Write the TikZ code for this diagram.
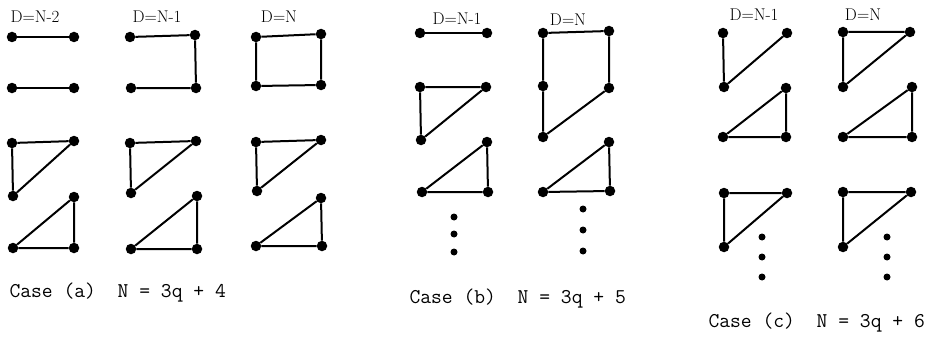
\documentclass[tikz,border=0pt]{standalone}
\usepackage{amsmath,amssymb}

\tikzset{
  pt/.style={circle,fill,inner sep=0pt,minimum size=10.5pt},
  gap/.style={circle,fill,inner sep=0pt,minimum size=7pt},
  edge/.style={line width=2pt,line join=round},
  head/.style={font=\fontsize{17}{20}\selectfont},
  case/.style={anchor=base west,font=\ttfamily\fontsize{21}{25}\selectfont}
}

\begin{document}
\begin{tikzpicture}[x=1pt,y=-1pt]
    \useasboundingbox (0,0) rectangle (926,337);

    % Case (a), D=N-2
    \node[head] (ha1) at (35,17) {D=N-2};
    \node[pt] (a11) at (12,37) {}; \node[pt] (a12) at (74,37) {};
    \node[pt] (a13) at (12,88) {}; \node[pt] (a14) at (74,88) {};
    \node[pt] (a15) at (12,143) {}; \node[pt] (a16) at (74,141) {};
    \node[pt] (a17) at (13,196) {}; \node[pt] (a18) at (74,197) {};
    \node[pt] (a19) at (13,248) {}; \node[pt] (a110) at (74,248) {};
    \draw[edge] (a11) -- (a12);
    \draw[edge] (a13) -- (a14);
    \draw[edge] (a15) -- (a16) -- (a17) -- (a15);
    \draw[edge] (a18) -- (a19) -- (a110) -- (a18);

    % Case (a), D=N-1
    \node[head] (ha2) at (157,17) {D=N-1};
    \node[pt] (a21) at (130,37) {}; \node[pt] (a22) at (195,35) {};
    \node[pt] (a23) at (131,88) {}; \node[pt] (a24) at (196,88) {};
    \node[pt] (a25) at (130,143) {}; \node[pt] (a26) at (196,141) {};
    \node[pt] (a27) at (131,193) {}; \node[pt] (a28) at (197,196) {};
    \node[pt] (a29) at (131,249) {}; \node[pt] (a210) at (197,249) {};
    \draw[edge] (a21) -- (a22) -- (a24) -- (a23);
    \draw[edge] (a25) -- (a26) -- (a27) -- (a25);
    \draw[edge] (a28) -- (a29) -- (a210) -- (a28);

    % Case (a), D=N
    \node[head] (ha3) at (279,17) {D=N};
    \node[pt] (a31) at (256,37) {}; \node[pt] (a32) at (321,34) {};
    \node[pt] (a33) at (256,86) {}; \node[pt] (a34) at (321,85) {};
    \node[pt] (a35) at (256,142) {}; \node[pt] (a36) at (321,140) {};
    \node[pt] (a37) at (257,191) {}; \node[pt] (a38) at (321,198) {};
    \node[pt] (a39) at (256,246) {}; \node[pt] (a310) at (322,246) {};
    \draw[edge] (a31) -- (a32) -- (a34) -- (a33) -- (a31);
    \draw[edge] (a35) -- (a36) -- (a37) -- (a35);
    \draw[edge] (a38) -- (a39) -- (a310) -- (a38);

    % Case (b), D=N-1
    \node[head] (hb1) at (457,19) {D=N-1};
    \node[pt] (b11) at (420,33) {}; \node[pt] (b12) at (487,33) {};
    \node[pt] (b13) at (420,87) {}; \node[pt] (b14) at (486,87) {};
    \node[pt] (b15) at (421,140) {}; \node[pt] (b16) at (487,142) {};
    \node[pt] (b17) at (422,192) {}; \node[pt] (b18) at (488,192) {};
    \node[gap] (b19) at (454,217) {}; \node[gap] (b110) at (454,234) {};
    \node[gap] (b111) at (454,252) {};
    \draw[edge] (b11) -- (b12);
    \draw[edge] (b13) -- (b14) -- (b15) -- (b13);
    \draw[edge] (b16) -- (b17) -- (b18) -- (b16);

    % Case (b), D=N
    \node[head] (hb2) at (568,20) {D=N};
    \node[pt] (b21) at (543,33) {}; \node[pt] (b22) at (609,31) {};
    \node[pt] (b23) at (543,86) {}; \node[pt] (b24) at (609,88) {};
    \node[pt] (b25) at (543,137) {}; \node[pt] (b26) at (609,142) {};
    \node[pt] (b27) at (543,192) {}; \node[pt] (b28) at (610,191) {};
    \node[gap] (b29) at (583,209) {}; \node[gap] (b210) at (583,230) {};
    \node[gap] (b211) at (583,251) {};
    \draw[edge] (b22) -- (b21) -- (b23) -- (b25) -- (b24) -- (b22);
    \draw[edge] (b26) -- (b27) -- (b28) -- (b26);

    % Case (c), D=N-1
    \node[head] (hc1) at (754,15) {D=N-1};
    \node[pt] (c11) at (723,33) {}; \node[pt] (c12) at (787,33) {};
    \node[pt] (c13) at (724,87) {}; \node[pt] (c14) at (786,88) {};
    \node[pt] (c15) at (723,137) {}; \node[pt] (c16) at (786,137) {};
    \node[pt] (c17) at (724,193) {}; \node[pt] (c18) at (787,193) {};
    \node[pt] (c19) at (724,247) {};
    \node[gap] (c110) at (762,237) {}; \node[gap] (c111) at (762,257) {};
    \node[gap] (c112) at (762,277) {};
    \draw[edge] (c11) -- (c13) -- (c12);
    \draw[edge] (c14) -- (c15) -- (c16) -- (c14);
    \draw[edge] (c17) -- (c18) -- (c19) -- (c17);

    % Case (c), D=N
    \node[head] (hc2) at (863,15) {D=N};
    \node[pt] (c21) at (843,32) {}; \node[pt] (c22) at (910,32) {};
    \node[pt] (c23) at (843,87) {}; \node[pt] (c24) at (912,87) {};
    \node[pt] (c25) at (843,137) {}; \node[pt] (c26) at (912,137) {};
    \node[pt] (c27) at (843,192) {}; \node[pt] (c28) at (911,192) {};
    \node[pt] (c29) at (843,247) {};
    \node[gap] (c210) at (887,237) {}; \node[gap] (c211) at (887,257) {};
    \node[gap] (c212) at (887,277) {};
    \draw[edge] (c21) -- (c22) -- (c23) -- (c21);
    \draw[edge] (c24) -- (c25) -- (c26) -- (c24);
    \draw[edge] (c27) -- (c28) -- (c29) -- (c27);

    % Labels
    \node[case] (la) at (6,297) {Case (a)\ \ N = 3q + 4};
    \node[case] (lb) at (406,303) {Case (b)\ \ N = 3q + 5};
    \node[case] (lc) at (705,327) {Case (c)\ \ N = 3q + 6};
\end{tikzpicture}
\end{document}
